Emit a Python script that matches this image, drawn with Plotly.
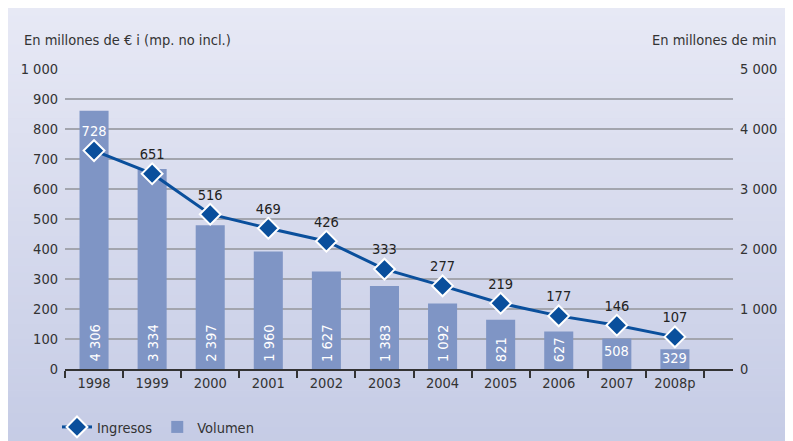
import plotly.graph_objects as go

years = ["1998", "1999", "2000", "2001", "2002", "2003", "2004", "2005", "2006", "2007", "2008p"]
ingresos = [728, 651, 516, 469, 426, 333, 277, 219, 177, 146, 107]
volumen = [4306, 3334, 2397, 1960, 1627, 1383, 1092, 821, 627, 508, 329]
volumen_labels = ["4 306", "3 334", "2 397", "1 960", "1 627", "1 383", "1 092", "821", "627", "508", "329"]
left_ticks = [0, 100, 200, 300, 400, 500, 600, 700, 800, 900, 1000]
left_ticktext = ["0", "100", "200", "300", "400", "500", "600", "700", "800", "900", "1 000"]
right_ticks = [0, 500, 1000, 1500, 2000, 2500, 3000, 3500, 4000, 4500, 5000]
right_ticktext = ["0", "", "1 000", "", "2 000", "", "3 000", "", "4 000", "", "5 000"]

FONT = "DejaVu Sans Condensed, Liberation Sans Narrow, Arial Narrow, sans-serif"
FS = 14.5
TXT = "#333333"
LINE = "#0A4F9C"
BAR = "#7F95C5"

W, H = 793, 441
L, R, T, B = 57, 68, 61, 80
PW, PH = W - L - R, H - T - B


def px_x(p):
    return (p - L) / PW


def px_y(p):
    return (H - B - p) / PH


fig = go.Figure()

fig.add_trace(go.Scatter(
    x=years, y=ingresos, yaxis="y2", name="Ingresos",
    mode="lines+markers+text",
    line=dict(color=LINE, width=3),
    marker=dict(symbol="diamond", size=16, color=LINE, line=dict(color="white", width=2)),
    text=[str(v) for v in ingresos], textposition="top center",
    textfont=dict(family=FONT, size=FS, color=["white"] + ["#222222"] * (len(ingresos) - 1)),
    cliponaxis=False,
))

fig.add_trace(go.Bar(
    x=years, y=volumen, name="Volumen", marker=dict(color=BAR, line=dict(width=0)),
    width=0.5,
))

# gradient background panel
n = 60
x0, x1 = px_x(0), px_x(W)
ytop, ybot = 0, H
top_c = (231, 233, 245)
bot_c = (197, 203, 229)
shapes = []
for i in range(n):
    a = ytop + (ybot - ytop) * i / n
    b = ytop + (ybot - ytop) * (i + 1) / n + 0.6
    t = i / (n - 1)
    c = tuple(round(top_c[k] + (bot_c[k] - top_c[k]) * t) for k in range(3))
    shapes.append(dict(type="rect", xref="paper", yref="paper", x0=x0, x1=x1,
                       y0=px_y(b), y1=px_y(a), fillcolor="rgb(%d,%d,%d)" % c,
                       line=dict(width=0), layer="below"))

annotations = []
for i, lab in enumerate(volumen_labels):
    vertical = i < 9
    annotations.append(dict(
        x=i, y=0, xref="x", yref="y", text=lab, showarrow=False,
        textangle=-90 if vertical else 0, yanchor="bottom", xanchor="center",
        yshift=5 if vertical else (8 if i == 9 else 1),
        font=dict(family=FONT, size=FS, color="white"),
    ))

annotations.append(dict(x=px_x(14), y=px_y(32), xref="paper", yref="paper",
                        text="En millones de € i (mp. no incl.)", showarrow=False,
                        xanchor="left", yanchor="middle",
                        font=dict(family=FONT, size=FS, color=TXT)))
annotations.append(dict(x=px_x(771), y=px_y(32), xref="paper", yref="paper",
                        text="En millones de min", showarrow=False,
                        xanchor="right", yanchor="middle",
                        font=dict(family=FONT, size=FS, color=TXT)))

fig.update_layout(
    width=W, height=H,
    margin=dict(l=L, r=R, t=T, b=B, pad=0, autoexpand=False),
    paper_bgcolor="rgb(214,218,237)", plot_bgcolor="rgba(0,0,0,0)",
    font=dict(family=FONT, size=FS, color=TXT),
    shapes=shapes, annotations=annotations,
    showlegend=True,
    legend=dict(orientation="h", xref="container", yref="container",
                x=49 / W, y=1 - 419 / H, xanchor="left", yanchor="middle",
                bgcolor="rgba(0,0,0,0)", font=dict(family=FONT, size=FS, color=TXT),
                traceorder="normal", itemwidth=30),
    xaxis=dict(type="category", range=[-0.5, 11], tickson="boundaries",
               ticks="outside", ticklen=7, tickwidth=1.5, tickcolor=TXT,
               showline=True, linecolor=TXT, linewidth=1.5, showgrid=False,
               tickfont=dict(family=FONT, size=FS, color=TXT), fixedrange=True),
    yaxis=dict(side="right", range=[0, 5000], tickvals=right_ticks, ticktext=right_ticktext,
               showgrid=True, gridcolor="#A3A5AE", gridwidth=1.5, zeroline=False,
               showline=False, ticks="", ticklabelstandoff=6,
               tickfont=dict(family=FONT, size=FS, color=TXT)),
    yaxis2=dict(side="left", overlaying="y", range=[0, 1000], tickvals=left_ticks,
                ticktext=left_ticktext, showgrid=False, zeroline=False, showline=False,
                ticks="", ticklabelstandoff=6,
                tickfont=dict(family=FONT, size=FS, color=TXT)),
)

fig.write_html("out.html")
